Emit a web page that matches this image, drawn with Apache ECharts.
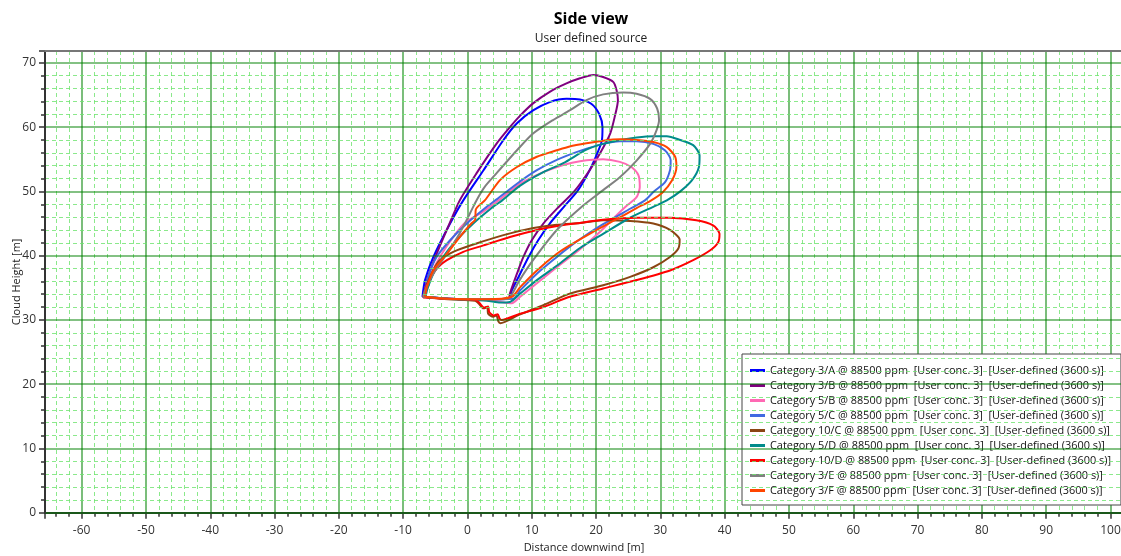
<!DOCTYPE html>
<html>
<head>
<meta charset="utf-8">
<script src="https://cdn.jsdelivr.net/npm/echarts@6/dist/echarts.min.js"></script>
<style>
  html, body { margin: 0; padding: 0; background: #fff; }
  #chart { width: 1121px; height: 556px; }
</style>
</head>
<body>
<div id="chart"></div>
<script>
// Cloud outlines in side view: [distance downwind (m), cloud height (m)]
const cat3A = [[-7.0,33.6],[-6.6,36.2],[-5.3,39.8],[-2.7,45.0],[-0.65,48.6],[2.5,53.3],[5.6,58.0],[7.7,60.6],[10.2,62.6],[12.8,63.9],[15.4,64.4],[17.5,64.3],[19.3,63.6],[20.5,62.0],[21.0,60.0],[20.9,57.9],[20.3,56.2],[19.0,53.3],[17.2,50.2],[15.0,47.6],[12.8,45.0],[11.0,42.4],[9.5,39.8],[8.0,36.8],[6.9,34.6],[6.6,33.4],[3.0,33.2],[-3.0,33.3],[-7.0,33.6]];
const cat3B = [[-6.8,33.6],[-6.2,36.5],[-4.7,40.5],[-3.0,44.5],[-1.2,48.6],[1.4,52.8],[4.5,57.4],[6.6,60.0],[8.2,61.8],[10.2,63.7],[12.8,65.5],[15.4,66.8],[17.5,67.6],[19.6,68.1],[21.1,67.8],[22.7,67.0],[23.2,65.7],[23.4,64.2],[22.9,61.6],[22.2,59.0],[20.6,55.9],[19.0,53.3],[16.6,50.0],[14.0,47.4],[11.8,45.0],[10.0,42.4],[8.7,39.8],[7.7,37.2],[6.6,34.1],[6.4,33.3],[3.0,33.2],[-3.0,33.3],[-6.8,33.6]];
const cat5B = [[-6.7,33.6],[-6.3,35.5],[-5.0,38.5],[-3.2,41.5],[-0.5,45.0],[2.5,46.9],[5.1,48.8],[8.2,51.2],[11.8,53.0],[14.9,54.1],[17.5,54.7],[21.1,55.0],[23.7,54.6],[25.5,53.8],[26.6,52.5],[26.8,50.7],[26.3,49.1],[24.8,47.8],[23.2,46.3],[20.5,43.6],[17.5,41.0],[13.9,38.2],[10.8,35.7],[8.2,33.6],[6.9,32.6],[5.1,32.8],[3.0,33.1],[-3.0,33.3],[-6.7,33.6]];
const cat5C = [[-6.6,33.6],[-6.1,36.7],[-4.8,39.8],[-2.7,42.4],[-0.1,45.0],[3.0,47.6],[4.6,48.8],[7.7,51.2],[10.8,53.3],[13.9,54.9],[17.5,56.3],[21.1,57.4],[23.7,57.8],[26.3,57.8],[28.9,57.4],[30.7,56.4],[31.6,54.9],[31.5,53.3],[30.7,51.4],[29.0,50.0],[27.6,48.6],[25.3,47.3],[21.1,44.9],[18.0,42.9],[15.9,41.4],[13.9,39.8],[10.8,37.2],[8.2,34.6],[7.1,33.3],[3.0,33.2],[-3.0,33.3],[-6.6,33.6]];
const cat10C = [[-6.8,33.6],[-6.3,35.5],[-5.3,37.8],[-4.3,39.3],[-2.2,40.6],[1.4,41.9],[5.6,43.2],[9.7,44.2],[13.9,44.8],[17.5,45.1],[21.1,45.5],[25.3,45.4],[28.9,45.0],[31.5,44.0],[33.0,42.5],[32.8,41.1],[31.5,39.8],[28.9,38.2],[25.3,36.7],[21.1,35.4],[15.9,34.1],[11.8,32.3],[8.0,30.8],[5.1,29.5],[4.8,29.8],[4.5,30.7],[4.0,30.5],[3.2,31.0],[3.1,32.0],[2.5,31.8],[1.7,32.6],[1.2,33.0],[-3.0,33.2],[-6.8,33.6]];
const cat5D = [[-6.5,33.6],[-6.3,34.6],[-5.3,37.2],[-3.8,39.8],[-1.7,42.4],[0.9,45.0],[4.0,47.6],[5.4,48.6],[8.2,50.9],[11.8,53.0],[14.9,54.4],[18.5,56.5],[21.1,57.4],[23.7,58.0],[26.3,58.4],[28.9,58.6],[31.0,58.6],[33.1,58.0],[35.1,57.2],[36.1,55.6],[36.0,53.8],[34.9,51.7],[33.1,50.0],[31.0,48.6],[28.9,47.6],[25.3,45.9],[21.1,43.4],[17.5,41.2],[14.0,38.5],[10.8,36.2],[8.2,34.1],[6.6,32.8],[5.1,32.7],[3.0,33.0],[-3.0,33.3],[-6.5,33.6]];
const cat10D = [[-6.9,33.5],[-6.5,35.0],[-5.6,36.8],[-4.6,38.2],[-3.2,39.3],[-0.65,40.6],[2.5,41.6],[6.6,42.9],[10.8,44.0],[14.4,44.7],[17.5,45.1],[21.1,45.6],[26.3,45.9],[31.5,45.9],[35.6,45.5],[38.2,44.7],[39.2,43.4],[39.0,42.1],[37.7,40.8],[35.1,39.3],[31.5,37.7],[26.3,36.2],[21.1,34.9],[15.9,33.6],[11.8,32.0],[8.0,30.9],[5.3,30.0],[5.0,30.2],[4.7,30.9],[4.1,30.7],[3.4,31.2],[3.2,32.1],[2.6,31.9],[1.8,32.7],[1.2,33.1],[-3.0,33.3],[-6.9,33.5]];
const cat3E = [[-6.9,33.6],[-6.6,34.6],[-5.3,37.2],[-3.2,40.3],[-1.2,43.5],[0.4,46.6],[1.4,48.6],[2.6,50.6],[4.5,52.8],[7.7,56.4],[10.2,59.0],[13.3,61.1],[15.9,62.6],[18.5,64.2],[21.1,65.1],[24.2,65.4],[26.3,65.2],[28.4,64.4],[29.5,62.9],[29.8,61.1],[29.4,59.5],[28.4,57.4],[26.3,54.8],[23.7,52.2],[21.1,50.2],[18.0,47.8],[13.9,44.0],[10.2,39.3],[8.0,36.0],[7.1,34.3],[6.4,33.3],[3.0,33.2],[-3.0,33.3],[-6.9,33.6]];
const cat3F = [[-6.6,33.6],[-6.3,35.1],[-5.3,37.7],[-3.2,40.3],[-1.2,42.9],[0.6,45.0],[1.2,45.6],[1.3,47.2],[2.0,48.0],[2.7,48.6],[5.1,51.8],[7.7,53.8],[10.8,55.4],[13.9,56.4],[15.9,57.0],[18.5,57.5],[21.1,57.9],[23.7,58.1],[26.3,58.0],[28.9,57.7],[31.0,56.9],[32.3,55.4],[32.5,53.8],[31.8,51.7],[30.3,49.8],[28.4,48.5],[26.3,47.4],[22.7,45.4],[19.0,43.4],[15.9,41.6],[13.9,40.3],[10.8,37.7],[8.2,35.1],[6.9,33.6],[3.0,33.2],[-3.0,33.3],[-6.6,33.6]];

const seriesNames = [
  'Category 3/A @ 88500 ppm  [User conc. 3]  [User-defined (3600 s)]',
  'Category 3/B @ 88500 ppm  [User conc. 3]  [User-defined (3600 s)]',
  'Category 5/B @ 88500 ppm  [User conc. 3]  [User-defined (3600 s)]',
  'Category 5/C @ 88500 ppm  [User conc. 3]  [User-defined (3600 s)]',
  'Category 10/C @ 88500 ppm  [User conc. 3]  [User-defined (3600 s)]',
  'Category 5/D @ 88500 ppm  [User conc. 3]  [User-defined (3600 s)]',
  'Category 10/D @ 88500 ppm  [User conc. 3]  [User-defined (3600 s)]',
  'Category 3/E @ 88500 ppm  [User conc. 3]  [User-defined (3600 s)]',
  'Category 3/F @ 88500 ppm  [User conc. 3]  [User-defined (3600 s)]'
];
const seriesData = [cat3A, cat3B, cat5B, cat5C, cat10C, cat5D, cat10D, cat3E, cat3F];
const seriesColors = ['#0000FF', '#800080', '#FF69B4', '#4169E1', '#8B4513', '#008B8B', '#FF0000', '#808080', '#FF4500'];

const FONT = '"Open Sans", "Noto Sans", sans-serif';

const chart = echarts.init(document.getElementById('chart'), null, { renderer: 'canvas' });

const series = seriesData.map((pts, i) => ({
  name: seriesNames[i],
  type: 'line',
  data: pts,
  showSymbol: false,
  symbol: 'none',
  smooth: 0.25,
  animation: false,
  lineStyle: { color: seriesColors[i], width: 2 },
  itemStyle: { color: seriesColors[i] }
}));

chart.setOption({
  animation: false,
  backgroundColor: '#fff',
  title: {
    text: 'Side view',
    subtext: 'User defined source',
    left: 586,
    textAlign: 'center',
    top: 6,
    itemGap: 6,
    textStyle: { fontFamily: FONT, fontSize: 16, fontWeight: 'bold', color: '#000' },
    subtextStyle: { fontFamily: FONT, fontSize: 12, color: '#222' }
  },
  grid: { left: 45, right: -2, top: 51, bottom: 43.3, containLabel: false, outerBoundsMode: 'none' },
  legend: {
    orient: 'vertical',
    left: 742,
    top: 354,
    padding: [9, 10, 7, 8],
    itemGap: 0,
    itemWidth: 15,
    itemHeight: 3,
    icon: 'rect',
    backgroundColor: '#fff',
    borderColor: '#444',
    borderWidth: 1,
    textStyle: { fontFamily: FONT, fontSize: 10.9, lineHeight: 15, color: '#111' },
    data: seriesNames
  },
  xAxis: [{
    type: 'value',
    min: -65.7,
    max: 101.95,
    splitNumber: 16,
    name: 'Distance downwind [m]',
    nameLocation: 'middle',
    nameGap: 30,
    nameMoveOverlap: false,
    nameTextStyle: { fontFamily: FONT, fontSize: 11, color: '#222' },
    axisLine: { show: true, onZero: false, lineStyle: { color: '#333', width: 2 } },
    axisTick: { show: true, length: 6, lineStyle: { color: '#333', width: 1.5 } },
    minorTick: { show: true, splitNumber: 5, length: 4, lineStyle: { color: '#333', width: 1.5 } },
    axisLabel: { fontFamily: FONT, fontSize: 12, color: '#333', margin: 12, showMinLabel: false, showMaxLabel: false },
    splitLine: { show: true, lineStyle: { color: 'rgba(0,128,0,0.65)', width: 1.6 } },
    minorSplitLine: { show: true, lineStyle: { color: 'rgba(110,228,110,0.8)', width: 1, type: [4, 3] } }
  }, {
    type: 'value',
    position: 'top',
    min: -65.7,
    max: 101.95,
    z: 10,
    axisLine: { show: true, onZero: false, lineStyle: { color: '#777', width: 2 } },
    axisTick: { show: false },
    axisLabel: { show: false },
    splitLine: { show: false }
  }],
  yAxis: {
    type: 'value',
    min: 0,
    max: 71.85,
    splitNumber: 7,
    name: 'Cloud Height [m]',
    nameLocation: 'middle',
    nameGap: 23,
    nameMoveOverlap: false,
    nameTextStyle: { fontFamily: FONT, fontSize: 11, color: '#222' },
    z: 5,
    axisLine: { show: true, onZero: false, lineStyle: { color: '#333', width: 2 } },
    axisTick: { show: true, length: 6, lineStyle: { color: '#333', width: 1.5 } },
    minorTick: { show: true, splitNumber: 5, length: 4, lineStyle: { color: '#333', width: 1.5 } },
    axisLabel: { fontFamily: FONT, fontSize: 12, color: '#333', margin: 9, showMaxLabel: false },
    splitLine: { show: true, lineStyle: { color: 'rgba(0,128,0,0.65)', width: 1.6 } },
    minorSplitLine: { show: true, lineStyle: { color: 'rgba(110,228,110,0.8)', width: 1, type: [4, 3] } }
  },
  series: series
});
</script>
</body>
</html>
